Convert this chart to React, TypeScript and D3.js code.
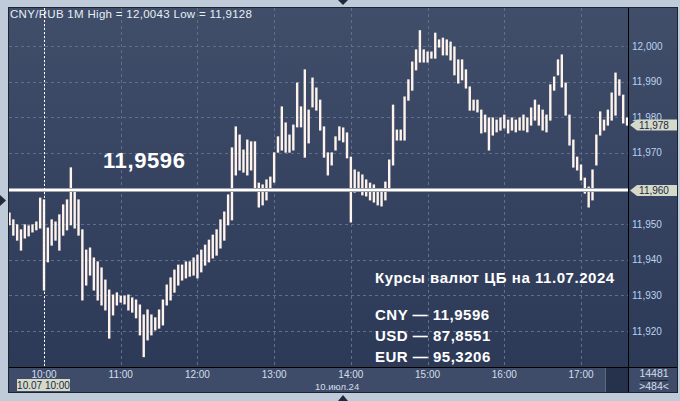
import React from "react";
import * as d3 from "d3";

// 3-minute high/low bars, CNY/RUB, 10.07.2024, starting 09:33
const barStartMin = 573;
const barStepMin = 3;
const highs = [
  11.9531, 11.9512, 11.9498, 11.9484, 11.9498, 11.9495, 11.9498, 11.9506, 11.9573, 11.9568,
  11.9489, 11.9512, 11.9506, 11.9526, 11.9554, 11.9568, 11.9658, 11.9596, 11.9568, 11.9484,
  11.9427, 11.9433, 11.9405, 11.9394, 11.9377, 11.9343, 11.9315, 11.9301, 11.9307, 11.9298,
  11.9298, 11.9301, 11.9293, 11.9287, 11.9273, 11.9245, 11.9259, 11.9245, 11.9237, 11.9259,
  11.9287, 11.9329, 11.9349, 11.9371, 11.9385, 11.9385, 11.9394, 11.9394, 11.9405, 11.9413,
  11.9427, 11.9441, 11.9455, 11.9469, 11.9484, 11.9512, 11.9534, 11.9582, 11.9714, 11.9773,
  11.9750, 11.9708, 11.9736, 11.9731, 11.9731, 11.9615, 11.9610, 11.9624, 11.9632, 11.9700,
  11.9745, 11.9829, 11.9784, 11.9750, 11.9778, 11.9896, 11.9829, 11.9933, 11.9820, 11.9910,
  11.9882, 11.9848, 11.9773, 11.9700, 11.9700, 11.9745, 11.9773, 11.9770, 11.9756, 11.9688,
  11.9652, 11.9646, 11.9638, 11.9624, 11.9615, 11.9610, 11.9596, 11.9590, 11.9618, 11.9680,
  11.9834, 11.9764, 11.9764, 11.9857, 11.9905, 11.9955, 11.9989, 12.0043, 11.9989, 11.9983,
  11.9983, 12.0036, 12.0017, 12.0022, 12.0017, 12.0011, 11.9997, 11.9961, 11.9961, 11.9933,
  11.9885, 11.9848, 11.9848, 11.9820, 11.9806, 11.9798, 11.9798, 11.9792, 11.9798, 11.9806,
  11.9792, 11.9798, 11.9792, 11.9798, 11.9806, 11.9798, 11.9826, 11.9848, 11.9834, 11.9820,
  11.9806, 11.9891, 11.9913, 11.9961, 11.9975, 11.9896, 11.9806, 11.9736, 11.9688, 11.9666,
  11.9629, 11.9604, 11.9652, 11.9750, 11.9815, 11.9792, 11.9820, 11.9868, 11.9924, 11.9905,
  11.9862, 11.9798,
];
const lows = [
  11.9498, 11.9469, 11.9455, 11.9427, 11.9461, 11.9467, 11.9478, 11.9484, 11.9489, 11.9315,
  11.9394, 11.9441, 11.9455, 11.9427, 11.9469, 11.9484, 11.9498, 11.9489, 11.9469, 11.9287,
  11.9329, 11.9357, 11.9315, 11.9287, 11.9273, 11.9259, 11.9180, 11.9245, 11.9273, 11.9281,
  11.9276, 11.9259, 11.9253, 11.9237, 11.9189, 11.9128, 11.9175, 11.9189, 11.9203, 11.9208,
  11.9217, 11.9273, 11.9287, 11.9309, 11.9329, 11.9343, 11.9349, 11.9354, 11.9357, 11.9349,
  11.9366, 11.9385, 11.9394, 11.9405, 11.9413, 11.9433, 11.9455, 11.9498, 11.9512, 11.9638,
  11.9652, 11.9646, 11.9638, 11.9652, 11.9596, 11.9548, 11.9554, 11.9568, 11.9596, 11.9618,
  11.9702, 11.9708, 11.9702, 11.9702, 11.9708, 11.9773, 11.9773, 11.9688, 11.9728, 11.9829,
  11.9820, 11.9764, 11.9688, 11.9638, 11.9666, 11.9708, 11.9736, 11.9731, 11.9686, 11.9506,
  11.9590, 11.9596, 11.9582, 11.9579, 11.9568, 11.9562, 11.9554, 11.9551, 11.9568, 11.9596,
  11.9666, 11.9736, 11.9736, 11.9736, 11.9848, 11.9876, 11.9933, 11.9955, 11.9955, 11.9955,
  11.9966, 11.9966, 11.9997, 11.9975, 11.9975, 11.9961, 11.9919, 11.9896, 11.9905, 11.9882,
  11.9820, 11.9820, 11.9815, 11.9756, 11.9759, 11.9708, 11.9750, 11.9759, 11.9764, 11.9770,
  11.9756, 11.9764, 11.9759, 11.9764, 11.9764, 11.9759, 11.9778, 11.9792, 11.9778, 11.9764,
  11.9759, 11.9792, 11.9876, 11.9919, 11.9885, 11.9806, 11.9722, 11.9660, 11.9652, 11.9624,
  11.9587, 11.9548, 11.9568, 11.9666, 11.9750, 11.9764, 11.9778, 11.9792, 11.9806, 11.9862,
  11.9784, 11.9778,
];

const hourTicks = [600, 660, 720, 780, 840, 900, 960, 1020];
const hourLabels = ["10:00", "11:00", "12:00", "13:00", "14:00", "15:00", "16:00", "17:00"];
const yTicks = [12.0, 11.99, 11.98, 11.97, 11.96, 11.95, 11.94, 11.93, 11.92];
const cbRate = 11.9596;
const cbTagValue = 11.96;
const lastPrice = 11.978;
const cursorMinute = 600;
const headerText = "CNY/RUB 1M  High = 12,0043 Low = 11,9128";
const cursorLabel = "10.07 10:00";
const dateLabel = "10.июл.24";
const infoTitle = "Курсы валют ЦБ на 11.07.2024";
const infoLines = ["CNY — 11,9596", "USD — 87,8551", "EUR — 95,3206"];
const barCount = "14481";
const visibleCount = ">484<";

const W = 680;
const H = 401;
const plot = { left: 9, top: 8, right: 628, bottom: 367 };
const FONT = "'Liberation Sans', Arial, sans-serif";

const fmt = (v: number, d: number) => v.toFixed(d).replace(".", ",");

export default function App() {
  const x = d3.scaleLinear().domain([600, 1020]).range([44, 581]);
  const y = d3.scaleLinear().domain([11.92, 12.0]).range([331, 46]);

  const bars = highs.map((h, i) => ({
    t: barStartMin + i * barStepMin,
    h,
    l: lows[i],
  }));

  const tag = (cy: number) =>
    `M630,${cy} L637,${cy - 5.5} L677,${cy - 5.5} L677,${cy + 5.5} L637,${cy + 5.5} Z`;

  // tick labels fully hidden under a price tag are not drawn (as in the original)
  const hiddenTick = (t: number) => Math.abs(t - cbTagValue) < 1e-9;

  return (
    <svg
      width={W}
      height={H}
      style={{ position: "absolute", left: 0, top: 0, display: "block" }}
      fontFamily={FONT}
    >
      <defs>
        <linearGradient id="bg" x1="0" y1="0" x2="0" y2="1">
          <stop offset="0" stopColor="#404e6a" />
          <stop offset="1" stopColor="#2c3957" />
        </linearGradient>
        <clipPath id="clip">
          <rect x={plot.left} y={plot.top} width={plot.right - plot.left} height={plot.bottom - plot.top} />
        </clipPath>
      </defs>
      {/* frame */}
      <rect x={0} y={0} width={W} height={H} fill="#bfcbd8" />
      {/* plot panel */}
      <rect x={plot.left} y={plot.top} width={plot.right - plot.left} height={plot.bottom - plot.top} fill="url(#bg)" />
      {/* right axis panel */}
      <rect x={plot.right + 1} y={plot.top} width={677 - plot.right - 1} height={plot.bottom - plot.top} fill="url(#bg)" />
      {/* bottom axis panel */}
      <rect x={plot.left} y={plot.bottom + 1} width={605 - plot.left} height={392 - plot.bottom - 1} fill="#3e4c69" />
      <rect x={606} y={plot.bottom + 1} width={plot.right - 606} height={392 - plot.bottom - 1} fill="#26324c" />
      <line x1={605.5} x2={605.5} y1={plot.bottom + 1} y2={392} stroke="#5d6a80" />
      <rect x={plot.right + 1} y={plot.bottom + 1} width={677 - plot.right - 1} height={392 - plot.bottom - 1} fill="#3e4c69" />
      {/* borders */}
      <rect x={plot.left - 0.5} y={plot.top - 0.5} width={677 - plot.left + 1} height={392 - plot.top + 1} fill="none" stroke="#1d2433" />
      <line x1={plot.right + 0.5} x2={plot.right + 0.5} y1={plot.top} y2={392} stroke="#000" />
      <line x1={plot.left} x2={677} y1={plot.bottom + 0.5} y2={plot.bottom + 0.5} stroke="#000" />

      {/* grid */}
      <g stroke="#5f6f8c" strokeDasharray="3,3" strokeWidth={1}>
        {yTicks.map((t) => (
          <line key={t} x1={plot.left} x2={plot.right} y1={Math.round(y(t)) + 0.5} y2={Math.round(y(t)) + 0.5} />
        ))}
        {hourTicks.map((t) => (
          <line key={t} x1={Math.round(x(t)) + 0.5} x2={Math.round(x(t)) + 0.5} y1={plot.top} y2={plot.bottom} />
        ))}
      </g>

      {/* bars */}
      <g clipPath="url(#clip)" stroke="#fff3ec" strokeWidth={2.4}>
        {bars.map((b, i) => (
          <line key={i} x1={x(b.t)} x2={x(b.t)} y1={y(b.h) - 0.5} y2={y(b.l) + 0.5} />
        ))}
      </g>

      {/* CB rate line */}
      <line x1={plot.left} x2={plot.right} y1={y(cbRate)} y2={y(cbRate)} stroke="#9ea3ab" strokeWidth={4} />
      <line x1={plot.left} x2={plot.right} y1={y(cbRate)} y2={y(cbRate)} stroke="#ffffff" strokeWidth={2} />

      {/* cursor */}
      <line x1={Math.round(x(cursorMinute)) + 0.5} x2={Math.round(x(cursorMinute)) + 0.5} y1={plot.top} y2={plot.bottom}
        stroke="#ffffff" strokeDasharray="2,2" />

      {/* header */}
      <text x={10} y={18} fontSize={11.5} letterSpacing={0.3} fill="#e8eef6">{headerText}</text>

      {/* big rate */}
      <text x={103} y={168} fontSize={22} fontWeight="bold" fill="#ffffff" letterSpacing={0.6}>{fmt(cbRate, 4)}</text>

      {/* info block */}
      <g fill="#ffffff" fontWeight="bold">
        <text x={375} y={283} fontSize={15} letterSpacing={0.55}>{infoTitle}</text>
        {infoLines.map((s, i) => (
          <text key={s} x={375} y={320 + i * 21} fontSize={15} letterSpacing={0.5}>{s}</text>
        ))}
      </g>

      {/* right axis labels */}
      <g fontSize={10} fill="#b9d2f0">
        {yTicks.filter((t) => !hiddenTick(t)).map((t) => (
          <text key={t} x={632} y={y(t) + 3.5}>{fmt(t, 3)}</text>
        ))}
      </g>
      <path d={tag(Math.round(y(lastPrice)) + 1)} fill="#d5d9c9" />
      <text x={654} y={Math.round(y(lastPrice)) + 4.5} fontSize={10} fill="#1b2740" textAnchor="middle">{fmt(lastPrice, 3)}</text>
      <path d={tag(Math.round(y(cbRate)) + 0.5)} fill="#d5d9c9" />
      <text x={654} y={Math.round(y(cbRate)) + 4} fontSize={10} fill="#1b2740" textAnchor="middle">{fmt(cbTagValue, 3)}</text>

      {/* bottom axis labels */}
      <g fontSize={10} fill="#d6deea" textAnchor="middle">
        {hourTicks.map((t, i) => (
          <text key={t} x={x(t)} y={378}>{hourLabels[i]}</text>
        ))}
      </g>
      <text x={315} y={389.5} fontSize={9.5} fill="#d6deea">{dateLabel}</text>
      <rect x={17} y={379} width={53} height={12} fill="#d5d9c9" />
      <text x={43.5} y={389} fontSize={10} fill="#1b2740" textAnchor="middle">{cursorLabel}</text>

      {/* bottom right counters */}
      <text x={654} y={377} fontSize={10.5} fill="#d6deea" textAnchor="middle">{barCount}</text>
      <line x1={640} x2={668} y1={380.5} y2={380.5} stroke="#1e2638" />
      <text x={654} y={390} fontSize={10.5} fill="#d6deea" textAnchor="middle">{visibleCount}</text>

      {/* frame arrows */}
      <path d="M338,0 L348,0 L343,5 Z" fill="#1f2a3d" />
      <path d="M338,401 L348,401 L343,395 Z" fill="#1f2a3d" />
      <path d="M0,195 L0,206 L6,200.5 Z" fill="#1f2a3d" />
    </svg>
  );
}
